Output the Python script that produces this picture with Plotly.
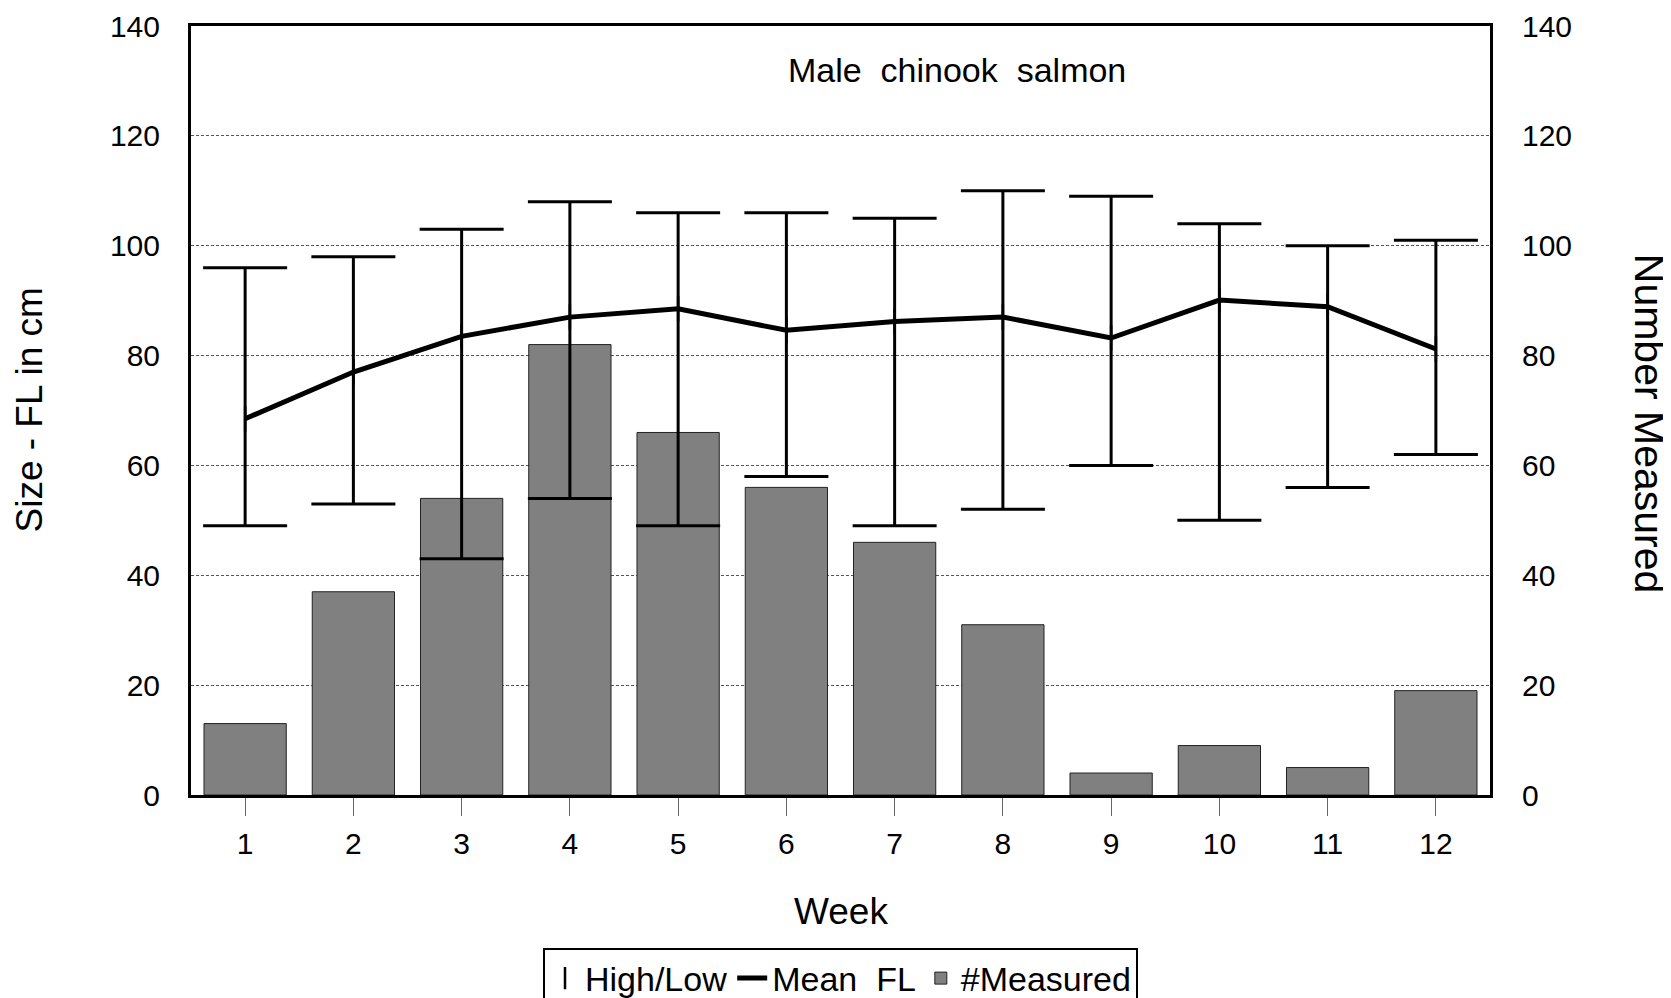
import plotly.graph_objects as go

weeks = [1, 2, 3, 4, 5, 6, 7, 8, 9, 10, 11, 12]
high_fl = [96, 98, 103, 108, 106, 106, 105, 110, 109, 104, 100, 101]
low_fl = [49, 53, 43, 54, 49, 58, 49, 52, 60, 50, 56, 62]
mean_fl = [68.5, 77, 83.5, 87, 88.5, 84.6, 86.2, 87, 83.2, 90.1, 88.9, 81.2]
n_measured = [13, 37, 54, 82, 66, 56, 46, 31, 4, 9, 5, 19]

FONT = "Liberation Sans, Arial, sans-serif"

err_plus = [h - m for h, m in zip(high_fl, mean_fl)]
err_minus = [m - l for m, l in zip(mean_fl, low_fl)]

fig = go.Figure()

# High/Low range bars (the vertical marker sits hidden under the error-bar stem)
fig.add_trace(go.Scatter(
    x=weeks, y=mean_fl, name="High/Low", mode="markers", yaxis="y2",
    marker=dict(symbol="line-ns-open", size=18, color="black",
                line=dict(color="black", width=2.5)),
    error_y=dict(type="data", symmetric=False, array=err_plus, arrayminus=err_minus,
                 color="black", thickness=3, width=42),
))
fig.add_trace(go.Scatter(
    x=weeks, y=mean_fl, name="Mean\u00a0 FL", mode="lines", yaxis="y2",
    line=dict(color="black", width=5),
))
fig.add_trace(go.Bar(
    x=weeks, y=n_measured, name="#Measured", yaxis="y",
    marker=dict(color="#808080", line=dict(color="#222222", width=1)),
))

fig.update_layout(
    width=1663, height=990,
    margin=dict(l=183, r=181, t=18, b=203, autoexpand=False),
    paper_bgcolor="white", plot_bgcolor="white",
    font=dict(family=FONT, color="black", size=30),
    bargap=0.24,
    showlegend=True,
    legend=dict(
        orientation="h", xref="paper", yref="container",
        x=0.5, xanchor="center", y=0.051, yanchor="top",
        bordercolor="black", borderwidth=2,
        font=dict(family=FONT, size=34, color="black"),
        itemwidth=30,
        tracegroupgap=0,
    ),
    xaxis=dict(
        range=[0.5, 12.5], tickmode="array", tickvals=weeks,
        ticktext=[str(w) for w in weeks],
        ticks="outside", ticklen=18, tickwidth=1, tickcolor="#666666",
        ticklabelstandoff=2, automargin=False,
        showgrid=False, zeroline=False,
        showline=True, linecolor="black", linewidth=3, mirror=True,
        tickfont=dict(family=FONT, size=30),
    ),
    yaxis=dict(
        range=[0, 140], dtick=20, side="right",
        ticks="", ticklabelstandoff=23, automargin=False,
        showgrid=True, gridcolor="#555555", gridwidth=1, griddash="3px,2px",
        zeroline=False,
        showline=True, linecolor="black", linewidth=3, mirror=True,
        tickfont=dict(family=FONT, size=30),
    ),
    yaxis2=dict(
        range=[0, 140], dtick=20, side="left", overlaying="y",
        ticks="", ticklabelstandoff=22, automargin=False,
        showgrid=False, zeroline=False,
        showline=True, linecolor="black", linewidth=3,
        tickfont=dict(family=FONT, size=30),
    ),
    annotations=[
        dict(text="Male\u00a0 chinook\u00a0 salmon", xref="paper", yref="paper",
             x=0.590, y=0.943, xanchor="center", yanchor="middle",
             showarrow=False, font=dict(family=FONT, size=34)),
        dict(text="Week", xref="paper", yref="paper",
             x=0.5, y=-0.151, xanchor="center", yanchor="middle",
             showarrow=False, font=dict(family=FONT, size=37)),
        dict(text="Size - FL in cm", xref="paper", yref="paper",
             x=-0.1247, y=0.50, xanchor="center", yanchor="middle", textangle=-90,
             showarrow=False, font=dict(family=FONT, size=37)),
        dict(text="Number Measured", xref="paper", yref="paper",
             x=1.123, y=0.483, xanchor="center", yanchor="middle", textangle=90,
             showarrow=False, font=dict(family=FONT, size=41)),
    ],
)

fig.write_html("out.html")
